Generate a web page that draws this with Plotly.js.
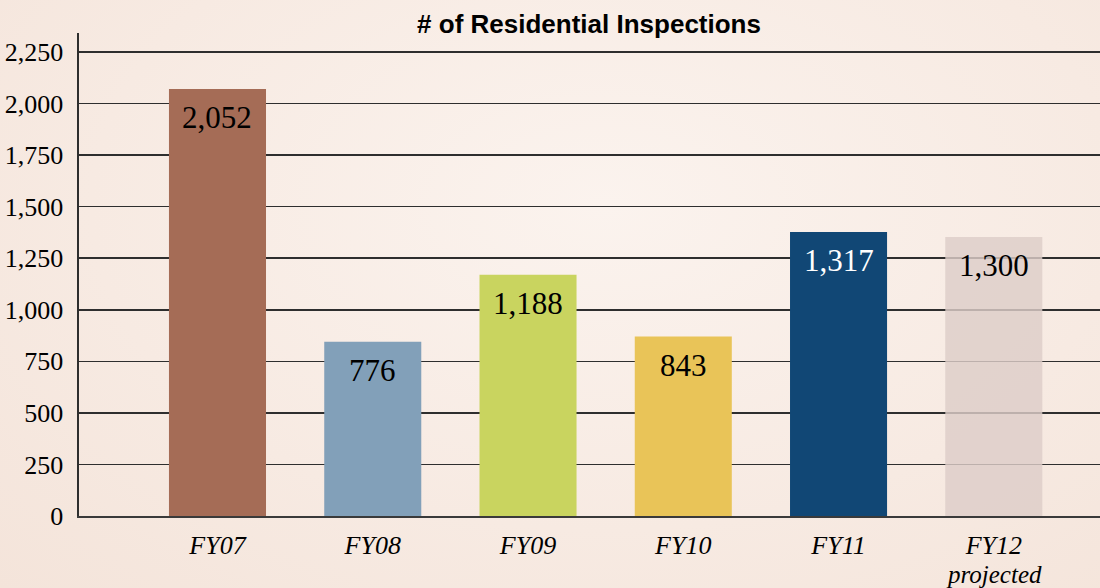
<!DOCTYPE html>
<html>
<head>
<meta charset="utf-8">
<script src="https://cdn.plot.ly/plotly-3.0.1.min.js"></script>
<style>
html,body{margin:0;padding:0;}
body{width:1100px;height:588px;background:radial-gradient(ellipse at 55% 35%, #fbf3ee 0%, #f7eae2 60%, #f4e4da 100%);}
#chart{width:1100px;height:588px;}
</style>
</head>
<body>
<div id="chart"></div>
<script>
// Data
const categories = ["FY07", "FY08", "FY09", "FY10", "FY11", "FY12"];
const tickLabels = ["FY07", "FY08", "FY09", "FY10", "FY11", "FY12"];
const subLabels = ["", "", "", "", "", "projected"];
// bar heights as drawn in the picture
const barHeights = [2070, 845, 1170, 870, 1377, 1353];
// value labels printed on the bars
const valueLabels = ["2,052", "776", "1,188", "843", "1,317", "1,300"];
const barColors = ["#a56c56", "#82a0b9", "#c9d45f", "#e9c458", "#114775", "rgba(221,205,200,0.82)"];
const labelColors = ["#000000", "#000000", "#000000", "#000000", "#ffffff", "#000000"];
const yTicks = [0, 250, 500, 750, 1000, 1250, 1500, 1750, 2000, 2250];
const yTickText = ["0", "250", "500", "750", "1,000", "1,250", "1,500", "1,750", "2,000", "2,250"];

const xIdx = categories.map((c, i) => i);
const serif = "Liberation Serif, Times New Roman, serif";

const trace = {
  type: "bar",
  x: xIdx,
  y: barHeights,
  width: 0.625,
  marker: {color: barColors, line: {width: 0}},
  hoverinfo: "skip"
};

const annotations = xIdx.map((i) => ({
  x: i, y: barHeights[i], xref: "x", yref: "y",
  text: valueLabels[i], showarrow: false,
  yanchor: "top", yshift: -9,
  font: {family: serif, size: 31, color: labelColors[i]}
})).concat(xIdx.filter(i => subLabels[i]).map((i) => ({
  x: i, y: 0, xref: "x", yref: "paper",
  text: "<i>" + subLabels[i] + "</i>", showarrow: false,
  yanchor: "middle", yshift: -58,
  font: {family: serif, size: 25, color: "#000", style: "italic"}
})));

const layout = {
  width: 1100, height: 588,
  margin: {l: 79, r: 0, t: 33, b: 72},
  paper_bgcolor: "rgba(0,0,0,0)",
  plot_bgcolor: "rgba(0,0,0,0)",
  title: {
    text: "<b># of Residential Inspections</b>",
    font: {family: "Liberation Sans, Arial, sans-serif", size: 26, color: "#000"},
    x: 0.5355, xanchor: "center", y: 0.959, yanchor: "middle"
  },
  xaxis: {
    range: [-0.892, 5.684],
    tickvals: xIdx,
    ticktext: tickLabels.map(t => "<i>" + t + "</i>"),
    tickfont: {family: serif, size: 26, color: "#000", style: "italic"},
    showgrid: false, zeroline: false,
    showline: true, linecolor: "#3a3a3a", linewidth: 2,
    ticks: "", ticklabelstandoff: 5,
    fixedrange: true
  },
  yaxis: {
    range: [0, 2342],
    tickvals: yTicks,
    ticktext: yTickText,
    tickfont: {family: serif, size: 26, color: "#000"},
    showgrid: true, gridcolor: "#2e2e2e", gridwidth: 1.6,
    zeroline: false,
    showline: true, linecolor: "#2e2e2e", linewidth: 1.6,
    ticks: "", ticklabelstandoff: 9,
    fixedrange: true
  },
  bargap: 0.375,
  annotations: annotations,
  showlegend: false
};

Plotly.newPlot("chart", [trace], layout, {displayModeBar: false, staticPlot: true});
</script>
</body>
</html>
